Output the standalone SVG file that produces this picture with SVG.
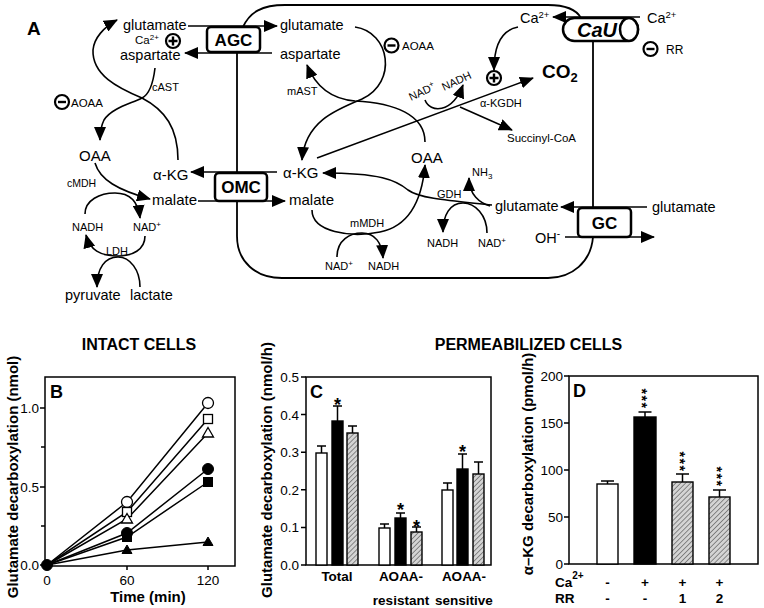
<svg xmlns="http://www.w3.org/2000/svg" width="764" height="608" viewBox="0 0 764 608">
<style>
text{font-family:"Liberation Sans",Arial,sans-serif;fill:#000}
.m{font-size:14.5px}
.o{font-size:15px}
.s{font-size:11px}
.b{font-weight:bold}
.c{fill:none;stroke:#000;stroke-width:1.6}
.a{marker-end:url(#ah)}
.mem{fill:none;stroke:#000;stroke-width:1.8}
.box{fill:#fff;stroke:#000;stroke-width:2.5}
.bx{font-size:17px;font-weight:bold}
.ax{fill:none;stroke:#000;stroke-width:1.5}
.bar{stroke:#000;stroke-width:1.4}
.tk{font-size:13.5px}
.ttl{font-size:16px;font-weight:bold}
.yl{font-size:15px;font-weight:bold}
.cat{font-size:13.5px;font-weight:bold}
.st{font-size:18px;font-weight:bold}
.st2{font-size:14px;font-weight:bold;letter-spacing:1.6px}
.pl{fill:none;stroke:#000;stroke-width:1.5}
.op{fill:#fff;stroke:#000;stroke-width:1.3}
.fp{fill:#000;stroke:#000;stroke-width:1}
.sym{fill:#fff;stroke:#000;stroke-width:2.2}
.symf{stroke:#000;stroke-width:2.4}
</style>
<defs>
<marker id="ah" viewBox="0 0 14 12" refX="13" refY="6" markerWidth="14" markerHeight="12" markerUnits="userSpaceOnUse" orient="auto"><path d="M0,0 L14,6 L0,12 Z"/></marker>
<pattern id="hatch" patternUnits="userSpaceOnUse" width="3.5" height="3.5" patternTransform="rotate(45)"><rect width="3.5" height="3.5" fill="#d4d4d4"/><line x1="0" y1="0" x2="0" y2="3.5" stroke="#444" stroke-width="1.1"/></pattern>
</defs>
<rect width="764" height="608" fill="#fff"/>

<text x="27" y="35" class="b" font-size="19">A</text>

<!-- mitochondrial membrane -->
<g id="membrane">
<path class="mem" d="M243,27 C250,12 262,5 285,5 L548,5 C565,5 576,9 581,18"/>
<path class="mem" d="M593,41 L593,208"/>
<path class="mem" d="M593,237 C591,262 572,278 548,278 L282,278 C256,278 237,262 237,236 L237,202"/>
<path class="mem" d="M237,173 L237,52"/>
</g>

<g id="connectors">
<path class="c a" d="M188,26 L277,26"/>
<path class="c a" d="M272,53 L185,53"/>
<path class="c a" d="M277,172 L191,172"/>
<path class="c a" d="M198,201 L285,201"/>
<path class="c a" d="M647,207 L561,207"/>
<path class="c a" d="M565,237 L654,237"/>
<path class="c a" d="M640,17 L553,17"/>
<path class="c a" d="M518,27 C502,30 494,45 494,70"/>
<path class="c a" d="M317,158 L533,78"/>
<path class="c a" d="M425,100 C430,113 452,114 463,85"/>
<path class="c a" d="M460,107 L512,130"/>
<path class="c a" d="M355,27 C390,32 398,82 362,99 C335,110 305,122 302,160"/>
<path class="c a" d="M425,142 C425,115 395,103 355,101 C330,99 315,85 307,65"/>
<path class="c a" d="M312,210 C312,232 350,238 380,232 C410,226 422,200 425,165"/>
<path class="c a" d="M337,257 C337,240 350,233 362,233 C375,233 382,243 383,258"/>
<path class="c a" d="M492,205 C455,201 420,199 408,190 C396,180 380,173 323,173"/>
<path class="c a" d="M490,206 C480,203 469,195 469,178"/>
<path class="c a" d="M487,233 C487,215 475,203 463,203 C450,203 443,215 443,232"/>
<path class="c a" d="M178,160 C178,128 165,110 142,98 C118,88 92,75 93,50 C94,38 104,27 117,20"/>
<path class="c a" d="M155,68 C153,85 148,95 142,98 C130,104 112,108 104,120 C101,126 100,132 100,140"/>
<path class="c a" d="M95,163 C100,180 118,190 150,199"/>
<path class="c a" d="M85,214 C85,200 100,193 115,193 C128,193 138,200 140,218"/>
<path class="c a" d="M145,236 C145,250 132,256 118,256 C100,256 90,250 86,235"/>
<path class="c a" d="M140,287 C140,270 130,257 118,257 C105,257 97,268 97,287"/>
</g>

<!-- transporters -->
<g id="AGC"><rect class="box" x="207" y="27" width="53" height="25" rx="4"/><text class="bx" x="233.5" y="45.5" text-anchor="middle">AGC</text></g>
<g id="OMC"><rect class="box" x="215" y="173" width="52" height="28" rx="4"/><text class="bx" x="241" y="193" text-anchor="middle">OMC</text></g>
<g id="GC"><rect class="box" x="578" y="208" width="53" height="29" rx="4"/><text class="bx" x="604.5" y="229" text-anchor="middle">GC</text></g>
<g id="CaU"><rect class="box" x="563" y="18" width="75" height="23" rx="11.5"/><ellipse cx="629" cy="29.5" rx="9" ry="11.5" fill="#fff" stroke="#000" stroke-width="2.5"/><text x="597" y="37" text-anchor="middle" font-family="Liberation Serif,serif" font-style="italic" font-weight="bold" font-size="20">CaU</text></g>

<!-- cytosol -->
<g id="glu-cyt"><text class="m" x="123" y="30">glutamate</text></g>
<g id="ca-cyt"><text x="135" y="43.5" font-size="11.5">Ca<tspan font-size="8" dy="-4">2+</tspan></text>
<circle class="sym" cx="173" cy="41" r="7"/><path class="symf" d="M168.5,41 H177.5 M173,36.5 V45.5"/></g>
<g id="asp-cyt"><text class="m" x="120" y="59.5">aspartate</text></g>
<g id="cAST"><text class="s" x="152" y="91">cAST</text></g>
<g id="aoaa-cyt"><circle class="sym" cx="62" cy="102" r="7"/><path class="symf" d="M58,102 H66"/><text x="71" y="106.5" font-size="11.5">AOAA</text></g>
<g id="oaa-cyt"><text class="o" x="79" y="161">OAA</text></g>
<g id="cMDH"><text x="67" y="187" font-size="10.5">cMDH</text></g>
<g id="akg-cyt"><text class="o" x="153" y="180">α-KG</text></g>
<g id="mal-cyt"><text class="o" x="152" y="205">malate</text></g>
<g id="nadh-cyt"><text class="s" x="72" y="231">NADH</text></g>
<g id="nad-cyt"><text class="s" x="133" y="231">NAD<tspan font-size="8" dy="-4">+</tspan></text></g>
<g id="LDH"><text class="s" x="106" y="255">LDH</text></g>
<g id="pyr"><text class="m" x="65" y="300">pyruvate</text></g>
<g id="lac"><text class="m" x="130" y="300">lactate</text></g>

<!-- mitochondria -->
<g id="glu-mit"><text class="m" x="280" y="30">glutamate</text></g>
<g id="asp-mit"><text class="m" x="280" y="59">aspartate</text></g>
<g id="mAST"><text class="s" x="287" y="95">mAST</text></g>
<g id="aoaa-mit"><circle class="sym" cx="391.5" cy="45.5" r="7"/><path class="symf" d="M387.5,45.5 H395.5"/><text x="402" y="50" font-size="11.5">AOAA</text></g>
<g id="akg-mit"><text class="o" x="283" y="178">α-KG</text></g>
<g id="mal-mit"><text class="o" x="289" y="205">malate</text></g>
<g id="mMDH"><text class="s" x="350" y="227">mMDH</text></g>
<g id="nad-mit1"><text class="s" x="325" y="270">NAD<tspan font-size="8" dy="-4">+</tspan></text></g>
<g id="nadh-mit1"><text class="s" x="368" y="270">NADH</text></g>
<g id="oaa-mit"><text class="o" x="411" y="163">OAA</text></g>
<g id="GDH"><text class="s" x="437" y="198">GDH</text></g>
<g id="nh3"><text class="s" x="472" y="176">NH<tspan font-size="8" dy="3">3</tspan></text></g>
<g id="nadh-mit2"><text class="s" x="427" y="247">NADH</text></g>
<g id="nad-mit2"><text class="s" x="478" y="247">NAD<tspan font-size="8" dy="-4">+</tspan></text></g>
<g id="glu-mit2"><text class="m" x="495" y="211">glutamate</text></g>
<g id="nad-kgdh"><text class="s" transform="translate(411,101) rotate(-25)">NAD<tspan font-size="8" dy="-4">+</tspan></text></g>
<g id="nadh-kgdh"><text class="s" transform="translate(444,91) rotate(-25)">NADH</text></g>
<g id="aKGDH"><text class="s" x="480" y="107">α-KGDH</text></g>
<g id="succ"><text x="507" y="142" font-size="11.5">Succinyl-CoA</text></g>
<g id="co2"><text class="b" x="542" y="78" font-size="19">CO<tspan font-size="13" dy="4">2</tspan></text></g>
<g id="ca-act"><circle class="sym" cx="494" cy="78" r="7"/><path class="symf" d="M489.5,78 H498.5 M494,73.5 V82.5"/></g>
<g id="ca-mit"><text class="m" x="520" y="23">Ca<tspan font-size="9.5" dy="-5">2+</tspan></text></g>

<!-- outside -->
<g id="ca-out"><text class="m" x="647" y="23">Ca<tspan font-size="9.5" dy="-5">2+</tspan></text></g>
<g id="rr"><circle class="sym" cx="650.5" cy="49" r="7"/><path class="symf" d="M646.5,49 H654.5"/><text x="666" y="54" font-size="12">RR</text></g>
<g id="oh"><text class="m" x="535" y="243">OH<tspan font-size="10" dy="-6">-</tspan></text></g>
<g id="glu-out"><text class="m" x="652" y="212">glutamate</text></g>

<!-- Panel B -->
<g id="panelB">
<text class="ttl" x="139" y="350" text-anchor="middle">INTACT CELLS</text>
<rect class="ax" x="45" y="377" width="190" height="189"/>
<text class="b" x="50" y="398" font-size="18">B</text>
<path class="ax" d="M45,408 h-5 M45,447 h-4 M45,487 h-5 M45,526 h-4 M45,565 h-5 M47,566 v4 M127,566 v4 M208,566 v4"/>
<text class="tk" x="39" y="413" text-anchor="end">1.0</text>
<text class="tk" x="39" y="492" text-anchor="end">0.5</text>
<text class="tk" x="39" y="570" text-anchor="end">0.0</text>
<text class="tk" x="47" y="585" text-anchor="middle">0</text>
<text class="tk" x="127" y="585" text-anchor="middle">60</text>
<text class="tk" x="208" y="585" text-anchor="middle">120</text>
<text class="yl" x="148" y="602" text-anchor="middle">Time (min)</text>
<text class="yl" transform="translate(18,477) rotate(-90)" text-anchor="middle">Glutamate decarboxylation (nmol)</text>
<polyline class="pl" points="47,565 127,502 208,403"/>
<polyline class="pl" points="47,565 127,512 208,419"/>
<polyline class="pl" points="47,565 127,519 208,433"/>
<polyline class="pl" points="47,565 127,533 208,469"/>
<polyline class="pl" points="47,565 127,537 208,482"/>
<polyline class="pl" points="47,565 127,550 208,542"/>
<circle class="op" cx="127" cy="502" r="5.5"/><circle class="op" cx="208" cy="403" r="5.5"/>
<rect class="op" x="122.5" y="507.5" width="9" height="9"/><rect class="op" x="203.5" y="414.5" width="9" height="9"/>
<path class="op" d="M127,513.5 L132.5,523 L121.5,523 Z M208,427.5 L213.5,437 L202.5,437 Z"/>
<circle class="fp" cx="127" cy="533" r="5.5"/><circle class="fp" cx="208" cy="469" r="5.5"/>
<rect class="fp" x="122.5" y="532.5" width="9" height="9"/><rect class="fp" x="203.5" y="477.5" width="9" height="9"/>
<path class="fp" d="M127,545 L132,553.5 L122,553.5 Z M208,537 L213,545.5 L203,545.5 Z"/>
<circle class="fp" cx="47" cy="565" r="5.5"/>
</g>

<!-- Panel C -->
<g id="panelC">
<text class="ttl" x="528.5" y="350" text-anchor="middle">PERMEABILIZED CELLS</text>
<rect class="ax" x="306" y="377" width="185" height="188"/>
<text class="b" x="310" y="398" font-size="18">C</text>
<path class="ax" d="M306,377 h-5 M306,414.6 h-5 M306,452.2 h-5 M306,489.8 h-5 M306,527.4 h-5 M306,565 h-5"/>
<text class="tk" x="299" y="382" text-anchor="end">0.5</text>
<text class="tk" x="299" y="419.6" text-anchor="end">0.4</text>
<text class="tk" x="299" y="457.2" text-anchor="end">0.3</text>
<text class="tk" x="299" y="494.8" text-anchor="end">0.2</text>
<text class="tk" x="299" y="532.4" text-anchor="end">0.1</text>
<text class="tk" x="299" y="570" text-anchor="end">0.0</text>
<text class="yl" transform="translate(272,470) rotate(-90)" text-anchor="middle">Glutamate decarboxylation (nmol/h)</text>
<path class="ax" d="M321.5,453 V446 M317,446 H326 M337.5,421 V406 M333,406 H342 M352.5,433 V426 M348,426 H357 M384.5,528 V524 M380,524 H389 M400.5,518 V513 M396,513 H405 M416.5,532 V527 M412,527 H421 M447.5,490 V483 M443,483 H452 M462.5,469 V454 M458,454 H467 M478.5,474 V462 M474,462 H483"/>
<rect class="bar" fill="#fff" x="316" y="453" width="11" height="112"/>
<rect class="bar" fill="#000" x="332" y="421" width="11" height="144"/>
<rect class="bar" fill="url(#hatch)" x="347" y="433" width="11" height="132"/>
<rect class="bar" fill="#fff" x="379" y="528" width="11" height="37"/>
<rect class="bar" fill="#000" x="395" y="518" width="11" height="47"/>
<rect class="bar" fill="url(#hatch)" x="411" y="532" width="11" height="33"/>
<rect class="bar" fill="#fff" x="442" y="490" width="11" height="75"/>
<rect class="bar" fill="#000" x="457" y="469" width="11" height="96"/>
<rect class="bar" fill="url(#hatch)" x="473" y="474" width="11" height="91"/>
<text class="st" x="337.5" y="411" text-anchor="middle">*</text>
<text class="st" x="400.5" y="516" text-anchor="middle">*</text>
<text class="st" x="416.5" y="533" text-anchor="middle">*</text>
<text class="st" x="462.5" y="458" text-anchor="middle">*</text>
<text class="cat" x="337" y="581" text-anchor="middle">Total</text>
<text class="cat" x="401" y="581" text-anchor="middle">AOAA-</text>
<text class="cat" x="401" y="605" text-anchor="middle">resistant</text>
<text class="cat" x="464" y="581" text-anchor="middle">AOAA-</text>
<text class="cat" x="464" y="605" text-anchor="middle">sensitive</text>
</g>

<!-- Panel D -->
<g id="panelD">
<rect class="ax" x="569" y="376" width="189" height="188"/>
<text class="b" x="573" y="397" font-size="18">D</text>
<path class="ax" d="M569,376 h-5 M569,423 h-5 M569,470 h-5 M569,517 h-5 M569,564 h-5"/>
<text class="tk" x="563" y="381" text-anchor="end">200</text>
<text class="tk" x="563" y="428" text-anchor="end">150</text>
<text class="tk" x="563" y="475" text-anchor="end">100</text>
<text class="tk" x="563" y="522" text-anchor="end">50</text>
<text class="tk" x="563" y="569" text-anchor="end">0</text>
<text class="yl" transform="translate(533,464) rotate(-90)" text-anchor="middle">α–KG decarboxylation (pmol/h)</text>
<path class="ax" d="M607.5,484 V481 M601,481 H614 M645,417 V412 M638.5,412 H651.5 M682.5,482 V474 M676,474 H689 M719.5,497 V490 M713,490 H726"/>
<rect class="bar" fill="#fff" x="597" y="484" width="21" height="80"/>
<rect class="bar" fill="#000" x="634" y="417" width="22" height="147"/>
<rect class="bar" fill="url(#hatch)" x="672" y="482" width="21" height="82"/>
<rect class="bar" fill="url(#hatch)" x="709" y="497" width="21" height="67"/>
<text class="st2" transform="translate(637.2,399) rotate(90)" text-anchor="middle">***</text>
<text class="st2" transform="translate(674.7,462) rotate(90)" text-anchor="middle">***</text>
<text class="st2" transform="translate(711.7,477) rotate(90)" text-anchor="middle">***</text>
<text class="cat" x="555" y="587">Ca<tspan font-size="10" dy="-8">2+</tspan></text>
<text class="cat" x="555" y="603">RR</text>
<text class="cat" x="607.5" y="587" text-anchor="middle">-</text>
<text class="cat" x="645" y="587" text-anchor="middle">+</text>
<text class="cat" x="682.5" y="587" text-anchor="middle">+</text>
<text class="cat" x="719.5" y="587" text-anchor="middle">+</text>
<text class="cat" x="607.5" y="603" text-anchor="middle">-</text>
<text class="cat" x="645" y="603" text-anchor="middle">-</text>
<text class="cat" x="682.5" y="603" text-anchor="middle">1</text>
<text class="cat" x="719.5" y="603" text-anchor="middle">2</text>
</g>
</svg>
